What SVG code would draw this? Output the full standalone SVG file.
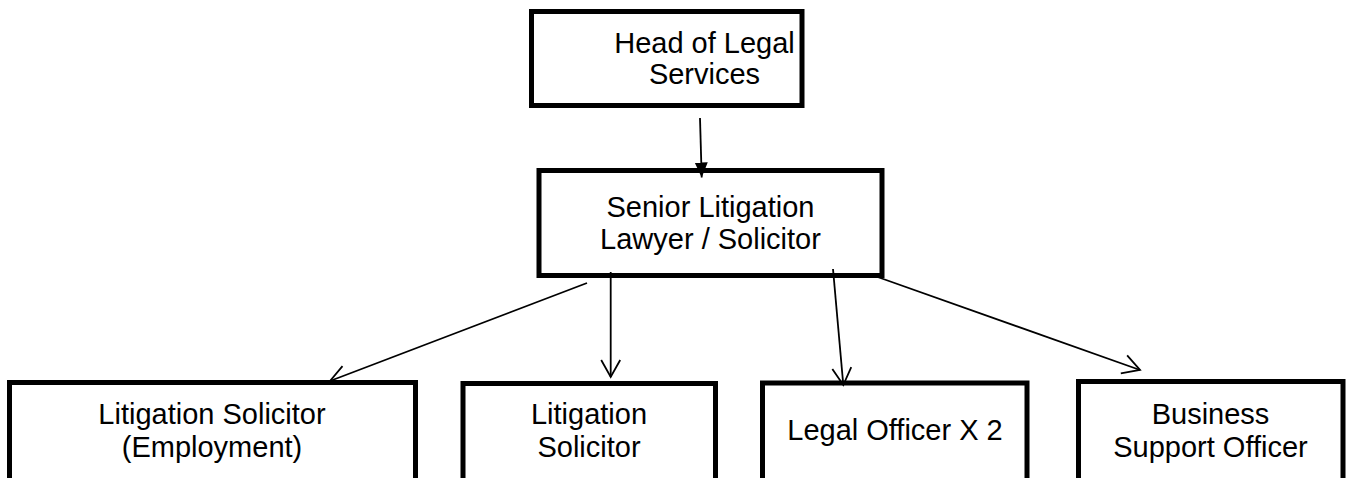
<svg xmlns="http://www.w3.org/2000/svg" width="1347" height="478" viewBox="0 0 1347 478">
<style>
.box{fill:#fff;stroke:#000;stroke-width:5}
.t{font-family:"Liberation Sans",Arial,sans-serif;font-size:29px;fill:#000;text-anchor:middle}
.c{stroke:#000;stroke-width:1.8;fill:none}
</style>
<defs>
<marker id="filled" markerUnits="userSpaceOnUse" markerWidth="16" markerHeight="16" viewBox="0 0 16 16" refX="15" refY="7" orient="auto">
<path d="M0,0.5 L15,7 L0,13.5 Z" fill="#000"/>
</marker>
<marker id="open" markerUnits="userSpaceOnUse" markerWidth="20" markerHeight="22" viewBox="0 0 20 22" refX="18" refY="11" orient="auto">
<path d="M1,1.5 L18,11 L1,20.5" fill="none" stroke="#000" stroke-width="1.8"/>
</marker>
</defs>
<g id="head">
<rect class="box" x="531.5" y="11.5" width="270.5" height="94"/>
<text class="t" x="704.5" y="52.5">Head of Legal</text>
<text class="t" x="704.5" y="84">Services</text>
</g>
<g id="senior">
<rect class="box" x="539" y="170.5" width="343" height="105"/>
<text class="t" x="710.5" y="216.5">Senior Litigation</text>
<text class="t" x="710.5" y="249">Lawyer / Solicitor</text>
</g>
<g id="lit-employment">
<rect class="box" x="9.5" y="382.5" width="406" height="130"/>
<text class="t" x="212" y="424">Litigation Solicitor</text>
<text class="t" x="212" y="456.5">(Employment)</text>
</g>
<g id="lit-solicitor">
<rect class="box" x="463" y="383.5" width="252.5" height="130"/>
<text class="t" x="589" y="424">Litigation</text>
<text class="t" x="589" y="456.5">Solicitor</text>
</g>
<g id="legal-officer">
<rect class="box" x="762.5" y="383" width="264.5" height="130"/>
<text class="t" x="895" y="440">Legal Officer X 2</text>
</g>
<g id="business-support">
<rect class="box" x="1078.5" y="381.5" width="264.5" height="130"/>
<text class="t" x="1210.5" y="424">Business</text>
<text class="t" x="1210.5" y="456.5">Support Officer</text>
</g>
<g id="connectors">
<line class="c" x1="700" y1="118" x2="701.7" y2="177.5" marker-end="url(#filled)"/>
<line class="c" x1="587" y1="283" x2="330" y2="381" marker-end="url(#open)"/>
<line class="c" x1="610.7" y1="272" x2="610.7" y2="377" marker-end="url(#open)"/>
<line class="c" x1="833" y1="269" x2="843.3" y2="385" marker-end="url(#open)"/>
<line class="c" x1="872" y1="275" x2="1140" y2="370" marker-end="url(#open)"/>
</g>
</svg>
